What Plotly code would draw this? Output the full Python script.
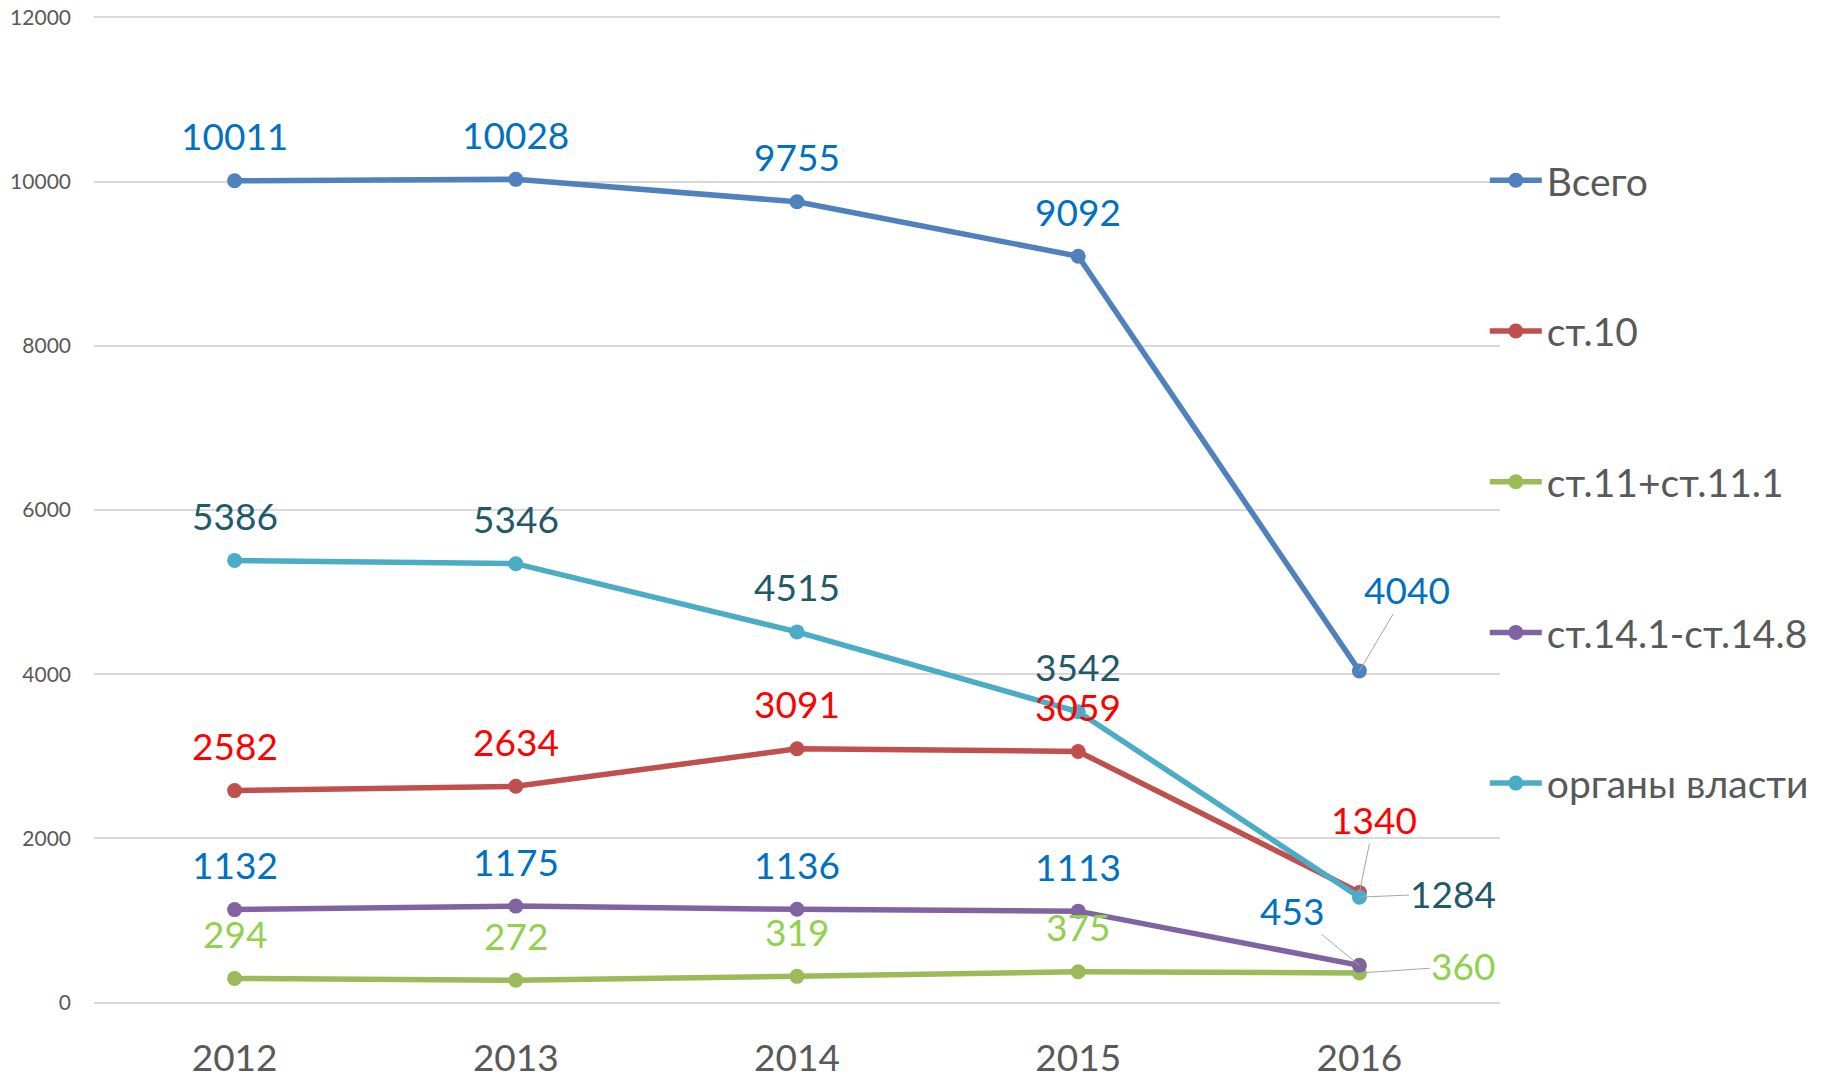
import plotly.graph_objects as go

years = ["2012", "2013", "2014", "2015", "2016"]
names = ["Всего", "ст.10", "ст.11+ст.11.1", "ст.14.1-ст.14.8", "органы власти"]
vsego = [10011, 10028, 9755, 9092, 4040]
st10 = [2582, 2634, 3091, 3059, 1340]
st11 = [294, 272, 319, 375, 360]
st14 = [1132, 1175, 1136, 1113, 453]
organy = [5386, 5346, 4515, 3542, 1284]
y_ticks = [0, 2000, 4000, 6000, 8000, 10000, 12000]

series = [vsego, st10, st11, st14, organy]
line_colors = ["#4F81BD", "#C0504D", "#9BBB59", "#8064A2", "#4BACC6"]
label_colors = ["#0070C0", "#FF0000", "#92D050", "#0070C0", "#215968"]
# offsets (px) for the last-point labels with leader lines
last_offsets = [(48, -79), (15, -71), (104, -5), (-67, -53), (94, -2)]

FONT = "Lato"
fig = go.Figure()
for i, (nm, vals) in enumerate(zip(names, series)):
    fig.add_trace(go.Scatter(
        x=years, y=vals, name=nm, mode="lines+markers",
        line=dict(color=line_colors[i], width=5.5),
        marker=dict(color=line_colors[i], size=15),
        legendgroup=nm, hoverinfo="skip",
    ))

annotations = []
for i, vals in enumerate(series):
    for j, v in enumerate(vals):
        if j < len(vals) - 1:
            annotations.append(dict(
                x=j, y=v, xref="x", yref="y", text=str(v), showarrow=False, yshift=45,
                font=dict(family=FONT, size=37, color=label_colors[i]),
                xanchor="center", yanchor="middle",
            ))
        else:
            ax, ay = last_offsets[i]
            annotations.append(dict(
                x=j, y=v, xref="x", yref="y", text=str(v), showarrow=True,
                axref="pixel", ayref="pixel", ax=ax, ay=ay - 2,
                arrowhead=0, arrowwidth=1, arrowcolor="#A6A6A6", standoff=0,
                font=dict(family=FONT, size=37, color=label_colors[i]),
            ))

fig.update_layout(
    template="none",
    width=1815, height=1068,
    margin=dict(l=86, r=323, t=7, b=71),
    paper_bgcolor="white", plot_bgcolor="white",
    font=dict(family=FONT, color="#595959"),
    showlegend=True,
    legend=dict(
        x=0.9892, y=0.8652, xanchor="left", yanchor="top",
        font=dict(family=FONT, size=39, color="#595959"),
        traceorder="grouped", tracegroupgap=97, itemwidth=52,
        bgcolor="rgba(0,0,0,0)", borderwidth=0,
    ),
    annotations=annotations,
    xaxis=dict(
        type="category", range=[-0.5, 4.5], showgrid=False, zeroline=False,
        showline=False, ticks="", automargin=False,
        tickfont=dict(family=FONT, size=37, color="#595959"),
        ticklabelstandoff=28, ticklabeloverflow="allow",
    ),
    yaxis=dict(
        range=[-30, 12030], tickvals=y_ticks, tickformat="d", showgrid=True,
        gridcolor="#D9D9D9", gridwidth=1.5, zeroline=False, showline=False,
        ticks="", automargin=False,
        tickfont=dict(family=FONT, size=21, color="#595959"),
        ticklabelstandoff=22, ticklabeloverflow="allow",
    ),
)

fig.write_html("out.html")
